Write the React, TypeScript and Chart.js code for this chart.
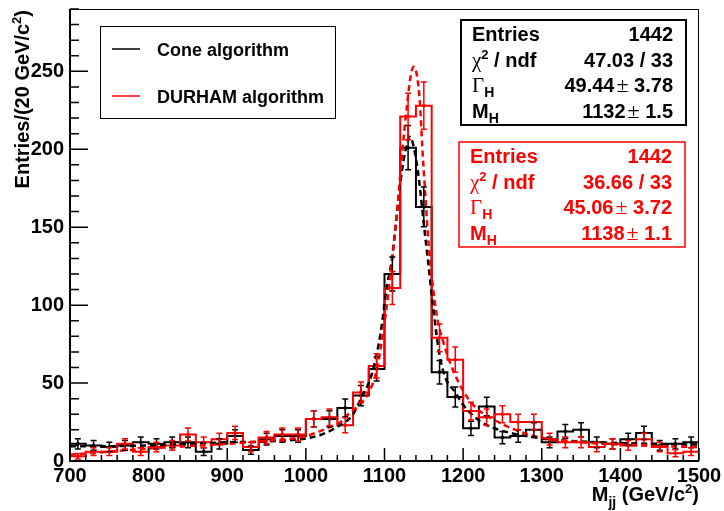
import React, { useEffect, useRef } from 'react';
import { Chart, registerables } from 'chart.js';

Chart.register(...registerables);

// ---------------- data ----------------
const binLow = [700, 720, 740, 760, 780, 800, 820, 840, 860, 880, 900, 920, 940, 960, 980, 1000, 1020, 1040, 1060, 1080,
  1100, 1120, 1140, 1160, 1180, 1200, 1220, 1240, 1260, 1280, 1300, 1320, 1340, 1360, 1380, 1400, 1420, 1440, 1460, 1480];
const binWidth = 20;
const coneCounts = [11, 10, 9, 10, 12, 11, 12, 12, 6, 11, 16, 7, 14, 16, 16, 27, 27, 34, 42, 59,
  120, 201, 163, 57, 41, 21, 35, 15, 16, 20, 12, 19, 20, 12, 11, 14, 18, 10, 11, 12];
const durhamCounts = [3, 6, 6, 11, 6, 9, 10, 17, 12, 14, 18, 9, 15, 17, 17, 27, 28, 23, 44, 61,
  111, 221, 228, 79, 65, 32, 28, 30, 25, 25, 14, 12, 12, 9, 11, 10, 14, 9, 5, 6];

const coneFitX = [700, 750, 800, 850, 900, 950, 1000, 1020, 1040, 1060, 1070, 1084, 1095, 1103, 1109, 1114, 1120, 1124, 1128, 1132,
  1136, 1140, 1144, 1150, 1155, 1162, 1170, 1177, 1190, 1200, 1220, 1240, 1260, 1300, 1350, 1400, 1450, 1500];
const coneFitY = [9.5, 9.5, 10, 11, 12, 12.5, 14.5, 17, 22, 30, 40, 56, 82, 112, 128, 150, 178, 192, 202, 208,
  204, 194, 180, 152, 130, 98, 68, 54, 44, 36, 26, 21, 18, 14.5, 12.5, 11.5, 11, 10.5];

const durhamFitX = [700, 750, 800, 850, 900, 950, 1000, 1027, 1044, 1054, 1070, 1080, 1090, 1095, 1103, 1111, 1116, 1122, 1129, 1133,
  1137, 1141, 1145, 1148, 1152, 1156, 1166, 1175, 1190, 1211, 1241, 1283, 1300, 1350, 1400, 1450, 1500];
const durhamFitY = [4, 6, 8, 9.5, 11, 13, 16, 21, 25, 30, 37, 44, 58, 72, 100, 135, 160, 195, 230, 246,
  253, 248, 230, 202, 170, 140, 95, 76, 55, 37, 26, 17, 15, 12, 10.5, 9.5, 9];

const xTicks = [700, 800, 900, 1000, 1100, 1200, 1300, 1400, 1500];
const yTicks = [0, 50, 100, 150, 200, 250];
const yMax = 290;

const legendLabels = ['Cone algorithm', 'DURHAM algorithm'];
const coneStats = ['1442', '47.03 / 33', '49.44', '3.78', '1132', '1.5'];
const durhamStats = ['1442', '36.66 / 33', '45.06', '3.72', '1138', '1.1'];

// ---------------- styles ----------------
const SANS = '"Liberation Sans", Arial, Helvetica, sans-serif';
const SERIF = '"Liberation Serif", "Times New Roman", serif';
const B = (s: number) => `bold ${s}px ${SANS}`;
const SR = (s: number) => `${s}px ${SERIF}`;
const RED = '#ff0000';
const BLACK = '#000000';

type Run = { t: string; f: string; dy?: number; dx?: number };

function runsWidth(ctx: CanvasRenderingContext2D, runs: Run[]) {
  let w = 0;
  for (const r of runs) {
    ctx.font = r.f;
    w += ctx.measureText(r.t).width + (r.dx || 0);
  }
  return w;
}

function drawRuns(ctx: CanvasRenderingContext2D, runs: Run[], x: number, y: number, align: 'left' | 'right') {
  let cx = align === 'left' ? x : x - runsWidth(ctx, runs);
  ctx.textBaseline = 'alphabetic';
  ctx.textAlign = 'left';
  for (const r of runs) {
    ctx.font = r.f;
    cx += r.dx || 0;
    ctx.fillText(r.t, cx, y + (r.dy || 0));
    cx += ctx.measureText(r.t).width;
  }
}

function drawStatBox(ctx: CanvasRenderingContext2D, x: number, y: number, w: number, h: number, color: string, vals: string[], lw: number) {
  ctx.save();
  ctx.fillStyle = '#ffffff';
  ctx.fillRect(x, y, w, h);
  ctx.strokeStyle = color;
  ctx.lineWidth = lw;
  ctx.strokeRect(x, y, w, h);
  ctx.fillStyle = color;
  const lx = x + 11;
  const rx = x + w - 13;
  const b0 = y + 21;
  const dy = 25.6;
  const fs = 20;
  drawRuns(ctx, [{ t: 'Entries', f: B(fs) }], lx, b0, 'left');
  drawRuns(ctx, [{ t: vals[0], f: B(fs) }], rx, b0, 'right');
  drawRuns(ctx, [{ t: 'χ', f: SR(21) }, { t: '2', f: B(13), dy: -8 }, { t: ' / ndf', f: B(fs) }], lx, b0 + dy, 'left');
  drawRuns(ctx, [{ t: vals[1], f: B(fs) }], rx, b0 + dy, 'right');
  drawRuns(ctx, [{ t: 'Γ', f: SR(21) }, { t: 'H', f: B(14), dy: 5 }], lx, b0 + 2 * dy, 'left');
  drawRuns(ctx, [{ t: vals[2], f: B(fs) }, { t: '±', f: SR(22), dx: 2 }, { t: ' ' + vals[3], f: B(fs) }], rx, b0 + 2 * dy, 'right');
  drawRuns(ctx, [{ t: 'M', f: B(fs) }, { t: 'H', f: B(14), dy: 5 }], lx, b0 + 3 * dy, 'left');
  drawRuns(ctx, [{ t: vals[4], f: B(fs) }, { t: '±', f: SR(22), dx: 2 }, { t: ' ' + vals[5], f: B(fs) }], rx, b0 + 3 * dy, 'right');
  ctx.restore();
}

const rootPlugin = {
  id: 'rootStyle',
  afterDatasetsDraw(chart: any) {
    const { ctx, chartArea, scales } = chart;
    const xs = scales.x;
    const ys = scales.y;
    ctx.save();
    ctx.beginPath();
    ctx.rect(chartArea.left, chartArea.top, chartArea.right - chartArea.left, chartArea.bottom - chartArea.top);
    ctx.clip();
    const drawErr = (counts: number[], color: string) => {
      ctx.strokeStyle = color;
      ctx.lineWidth = 1.5;
      counts.forEach((c, i) => {
        const cx = xs.getPixelForValue(binLow[i] + binWidth / 2);
        const e = Math.sqrt(c);
        const yHi = ys.getPixelForValue(c + e);
        const yLo = ys.getPixelForValue(Math.max(c - e, 0));
        ctx.beginPath();
        ctx.moveTo(cx, yLo);
        ctx.lineTo(cx, yHi);
        ctx.moveTo(cx - 3, yHi);
        ctx.lineTo(cx + 3, yHi);
        ctx.moveTo(cx - 3, yLo);
        ctx.lineTo(cx + 3, yLo);
        ctx.stroke();
      });
    };
    drawErr(coneCounts, BLACK);
    drawErr(durhamCounts, RED);
    ctx.restore();
  },
  afterDraw(chart: any) {
    const { ctx, chartArea, scales } = chart;
    const { left, right, top, bottom } = chartArea;
    const xs = scales.x;
    const ys = scales.y;
    ctx.save();
    // frame
    ctx.strokeStyle = BLACK;
    ctx.lineWidth = 1;
    ctx.strokeRect(left + 0.5, top + 0.5, right - left - 1, bottom - top - 1);
    ctx.lineWidth = 2;
    ctx.beginPath();
    ctx.moveTo(left, top);
    ctx.lineTo(left, bottom);
    ctx.lineTo(right, bottom);
    ctx.stroke();
    // ticks
    ctx.lineWidth = 1.5;
    ctx.beginPath();
    for (let v = 0; v <= yMax; v += 10) {
      const py = ys.getPixelForValue(v);
      const len = v % 50 === 0 ? 18 : 9;
      ctx.moveTo(left, py);
      ctx.lineTo(left + len, py);
    }
    for (let v = xTicks[0]; v <= xTicks[xTicks.length - 1]; v += binWidth) {
      const px = xs.getPixelForValue(v);
      const len = v % 100 === 0 ? 13 : 6;
      ctx.moveTo(px, bottom);
      ctx.lineTo(px, bottom - len);
    }
    ctx.stroke();

    // axis titles
    ctx.fillStyle = BLACK;
    drawRuns(ctx, [
      { t: 'M', f: B(20) }, { t: 'jj', f: B(14), dy: 6 }, { t: ' (GeV/c', f: B(20) }, { t: '2', f: B(13), dy: -8 }, { t: ')', f: B(20) },
    ], right, 501, 'right');
    ctx.save();
    ctx.translate(28.5, 10);
    ctx.rotate(-Math.PI / 2);
    drawRuns(ctx, [
      { t: 'Entries/(20 GeV/c', f: B(20) }, { t: '2', f: B(13), dy: -8 }, { t: ')', f: B(20) },
    ], 0, 0, 'right');
    ctx.restore();

    // legend
    ctx.fillStyle = '#ffffff';
    ctx.fillRect(100, 26, 235, 92);
    ctx.strokeStyle = BLACK;
    ctx.lineWidth = 1;
    ctx.strokeRect(100.5, 26.5, 235, 92);
    ctx.lineWidth = 1.5;
    ctx.strokeStyle = BLACK;
    ctx.beginPath();
    ctx.moveTo(112, 49);
    ctx.lineTo(140, 49);
    ctx.stroke();
    ctx.strokeStyle = RED;
    ctx.beginPath();
    ctx.moveTo(112, 96);
    ctx.lineTo(140, 96);
    ctx.stroke();
    ctx.fillStyle = BLACK;
    drawRuns(ctx, [{ t: legendLabels[0], f: B(18) }], 157, 55.5, 'left');
    drawRuns(ctx, [{ t: legendLabels[1], f: B(18) }], 157, 102.5, 'left');

    // stat boxes
    drawStatBox(ctx, 461, 20, 225, 105, BLACK, coneStats, 2);
    drawStatBox(ctx, 459, 142, 226, 105, RED, durhamStats, 1.5);
    ctx.restore();
  },
};

export default function App() {
  const ref = useRef<HTMLCanvasElement>(null);
  useEffect(() => {
    const canvas = ref.current;
    if (!canvas) return;
    const last = binLow.length - 1;
    const hist = (counts: number[]) => [
      { x: binLow[0], y: 0 },
      ...binLow.map((x, i) => ({ x, y: counts[i] })),
      { x: binLow[last] + binWidth, y: counts[last] },
      { x: binLow[last] + binWidth, y: 0 },
    ];
    const centers = (counts: number[]) => binLow.map((x, i) => ({ x: x + binWidth / 2, y: counts[i] }));
    const tickFont = { family: SANS, size: 20, weight: 'bold' as const };

    const chart = new Chart(canvas, {
      type: 'line',
      data: {
        datasets: [
          {
            label: 'DURHAM fit',
            data: durhamFitX.map((x, i) => ({ x, y: durhamFitY[i] })),
            borderColor: RED,
            borderWidth: 2.5,
            borderDash: [6, 4],
            pointRadius: 0,
            cubicInterpolationMode: 'monotone',
            fill: false,
          },
          {
            label: 'Cone fit',
            data: coneFitX.map((x, i) => ({ x, y: coneFitY[i] })),
            borderColor: BLACK,
            borderWidth: 2.5,
            borderDash: [6, 4],
            pointRadius: 0,
            cubicInterpolationMode: 'monotone',
            fill: false,
          },
          {
            label: 'DURHAM points',
            data: centers(durhamCounts),
            showLine: false,
            pointRadius: 1.8,
            pointBackgroundColor: RED,
            pointBorderWidth: 0,
            borderColor: RED,
          },
          {
            label: 'Cone points',
            data: centers(coneCounts),
            showLine: false,
            pointRadius: 1.8,
            pointBackgroundColor: BLACK,
            pointBorderWidth: 0,
            borderColor: BLACK,
          },
          {
            label: legendLabels[1],
            data: hist(durhamCounts),
            stepped: 'before',
            borderColor: RED,
            borderWidth: 2,
            pointRadius: 0,
            fill: false,
          },
          {
            label: legendLabels[0],
            data: hist(coneCounts),
            stepped: 'before',
            borderColor: BLACK,
            borderWidth: 2,
            pointRadius: 0,
            fill: false,
          },
        ],
      },
      options: {
        responsive: false,
        animation: false,
        devicePixelRatio: 1,
        events: [],
        layout: { padding: { left: 0, top: 9, right: 25, bottom: 0 } },
        plugins: { legend: { display: false }, tooltip: { enabled: false } },
        scales: {
          x: {
            type: 'linear',
            min: xTicks[0],
            max: xTicks[xTicks.length - 1],
            grid: { display: false, drawTicks: false },
            border: { display: false },
            ticks: {
              font: tickFont,
              color: BLACK,
              padding: 3,
              maxRotation: 0,
              autoSkip: false,
              callback: (v: any) => String(v),
            },
            afterBuildTicks: (s: any) => {
              s.ticks = xTicks.map((v) => ({ value: v }));
            },
            afterFit: (s: any) => {
              s.height = 50;
              s.paddingLeft = 0;
              s.paddingRight = 0;
            },
          },
          y: {
            type: 'linear',
            min: 0,
            max: yMax,
            grid: { display: false, drawTicks: false },
            border: { display: false },
            ticks: {
              font: tickFont,
              color: BLACK,
              padding: 6,
              autoSkip: false,
              callback: (v: any) => String(v),
            },
            afterBuildTicks: (s: any) => {
              s.ticks = yTicks.map((v) => ({ value: v }));
            },
            afterFit: (s: any) => {
              s.width = 70;
              s.paddingTop = 0;
              s.paddingBottom = 0;
            },
          },
        },
      },
      plugins: [rootPlugin],
    } as any);
    return () => chart.destroy();
  }, []);

  return (
    <div style={{ position: 'absolute', left: 0, top: 0, width: 724, height: 511, background: '#ffffff' }}>
      <canvas ref={ref} width={724} height={511} style={{ display: 'block', width: 724, height: 511 }} />
    </div>
  );
}
